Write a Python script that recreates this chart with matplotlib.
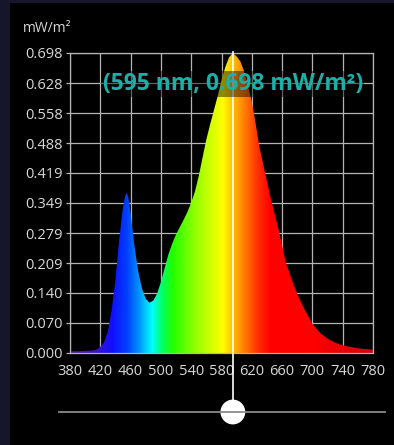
import numpy as np
import matplotlib
matplotlib.use("Agg")
import matplotlib.pyplot as plt
from matplotlib.colors import LinearSegmentedColormap
from matplotlib.patches import Rectangle
import matplotlib.transforms as mtransforms

plt.rcParams['font.family'] = ['Open Sans', 'DejaVu Sans']

# ---- data ----
wavelengths = [380, 390, 400, 410, 415, 420, 425, 430, 435, 440, 445, 450, 453, 455, 457,
               460, 465, 470, 475, 480, 485, 490, 495, 500, 505, 510, 515, 520, 525, 530,
               535, 540, 545, 550, 555, 560, 565, 570, 575, 580, 585, 590, 595, 600, 605,
               610, 615, 620, 625, 630, 635, 640, 645, 650, 655, 660, 665, 670, 675, 680,
               690, 700, 710, 720, 730, 740, 750, 760, 770, 780]
irradiance = [0.004, 0.004, 0.005, 0.006, 0.008, 0.014, 0.025, 0.050, 0.100, 0.170, 0.265, 0.340, 0.366, 0.373, 0.362,
              0.325, 0.250, 0.190, 0.150, 0.126, 0.117, 0.122, 0.138, 0.165, 0.198, 0.230, 0.255, 0.276, 0.293, 0.310,
              0.328, 0.350, 0.376, 0.412, 0.455, 0.497, 0.532, 0.565, 0.598, 0.635, 0.665, 0.688, 0.698, 0.690, 0.678,
              0.655, 0.622, 0.585, 0.535, 0.480, 0.440, 0.400, 0.360, 0.325, 0.290, 0.250, 0.210, 0.185, 0.160, 0.137,
              0.100, 0.068, 0.047, 0.033, 0.024, 0.018, 0.014, 0.011, 0.009, 0.008]
x_ticks = [380, 420, 460, 500, 540, 580, 620, 660, 700, 740, 780]
y_ticks = [0.000, 0.070, 0.140, 0.209, 0.279, 0.349, 0.419, 0.488, 0.558, 0.628, 0.698]
y_tick_labels = ["0.000", "0.070", "0.140", "0.209", "0.279", "0.349", "0.419", "0.488", "0.558", "0.628", "0.698"]
sel_wl = 595
sel_val = 0.698
y_unit = "mW/m²"

W, H = 394, 445
fig = plt.figure(figsize=(W / 100, H / 100), dpi=100)
fig.patch.set_facecolor("#15152b")
fig.patches.append(Rectangle((10 / W, 0), 1 - 10 / W, 1 - 3 / H, transform=fig.transFigure,
                             facecolor="black", edgecolor="none", zorder=-10))

ax = fig.add_axes([70 / W, 1 - 353 / H, (373 - 70) / W, (353 - 53) / H])
ax.set_facecolor("black")
ax.set_xlim(380, 780)
ax.set_ylim(0, 0.698)

# spectral colormap
anchors = [(380, "#5a1a9a"), (415, "#3a10d0"), (435, "#1010ff"), (455, "#0040ff"),
           (470, "#0090ff"), (488, "#00ffff"), (500, "#00ff70"), (515, "#20ff00"),
           (540, "#80ff00"), (565, "#d0ff00"), (582, "#ffff00"), (595, "#ffc000"),
           (610, "#ff8000"), (628, "#ff3000"), (645, "#ff0000"), (700, "#ff0000"),
           (780, "#d00010")]
cmap = LinearSegmentedColormap.from_list(
    "spec", [((w - 380) / 400, c) for w, c in anchors])
grad = np.linspace(0, 1, 800).reshape(1, -1)
im = ax.imshow(grad, cmap=cmap, extent=[380, 780, 0, 0.698], aspect="auto",
               interpolation="bilinear", zorder=2)
poly = ax.fill_between(wavelengths, 0, irradiance, facecolor="none", edgecolor="none", zorder=2)
clip = poly.get_paths()[0]
im.set_clip_path(clip, transform=ax.transData)

# grid
ax.set_xticks(x_ticks)
ax.set_yticks(y_ticks)
ax.set_yticklabels(y_tick_labels)
ax.grid(True, color="#b4b4b4", linewidth=0.9, zorder=1)
ax.set_axisbelow(True)
for s in ax.spines.values():
    s.set_color("#b4b4b4")
    s.set_linewidth(0.9)
ax.tick_params(colors="#b4b4b4", length=3, width=0.9, labelcolor="#d8d8d8", labelsize=10.5, pad=2)
ax.tick_params(axis="x", length=0, pad=8)
ax.text(-0.155, 1.082, y_unit, transform=ax.transAxes, color="#d8d8d8", fontsize=10,
        ha="left", va="center")

# selection line + slider
bt = mtransforms.blended_transform_factory(ax.transData, fig.transFigure)
ax.plot([sel_wl, sel_wl], [1 - 52 / H, 1 - 400 / H], transform=bt, color="white",
        linewidth=1.2, clip_on=False, zorder=5)
fig.add_artist(plt.Line2D([59 / W, 385 / W], [1 - 412 / H, 1 - 412 / H], color="#8a8a8a",
                          linewidth=1.3, transform=fig.transFigure, zorder=4))
ax.scatter([sel_wl], [1 - 412 / H], transform=bt, s=320, color="white", clip_on=False, zorder=6,
           edgecolors="none")

ax.text(sel_wl, 0.626, f"({sel_wl} nm, {sel_val:.3f} {y_unit})", color="#1ab0a8",
        fontsize=16.5, fontweight="bold", ha="center", va="center", zorder=7,
        bbox=dict(facecolor="black", alpha=0.45, edgecolor="none", pad=1))

fig.savefig("out.png", dpi=100, facecolor=fig.get_facecolor())
